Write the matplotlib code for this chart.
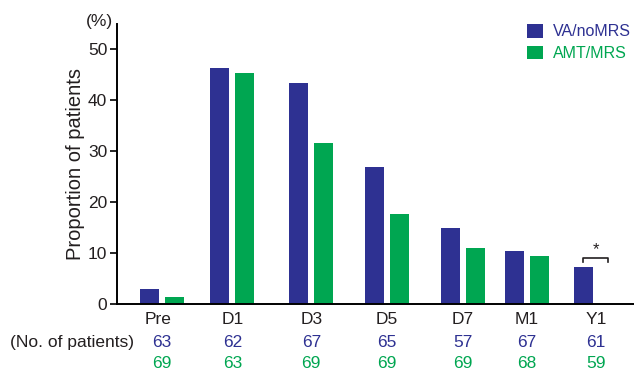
import numpy as np
from matplotlib import pyplot as plt

plt.rcParams['font.family'] = ['Liberation Sans', 'DejaVu Sans']

# data
timepoints = ['Pre', 'D1', 'D3', 'D5', 'D7', 'M1', 'Y1']
va_nomrs = [3.0, 46.4, 43.4, 26.9, 14.9, 10.4, 7.4]
amt_mrs = [1.4, 45.4, 31.6, 17.8, 11.0, 9.5, 0.0]
n_va = [63, 62, 67, 65, 57, 67, 61]
n_amt = [69, 63, 69, 69, 69, 68, 59]

# group positions (the time axis is not evenly spaced in the figure)
xpos = np.array([0.0, 1.0, 2.12, 3.19, 4.27, 5.18, 6.16])

BLUE = '#2E3192'
GREEN = '#00A651'
GREY = '#231F20'

fig = plt.figure(figsize=(6.34, 3.72), dpi=100)
ax = fig.add_axes([0.1845, 0.1815, 0.8155, 0.754])

w = 0.27
off = 0.177
ax.bar(xpos - off, va_nomrs, width=w, color=BLUE, label='VA/noMRS')
ax.bar(xpos + off, amt_mrs, width=w, color=GREEN, label='AMT/MRS')

ax.set_xlim(-0.638, 6.70)
ax.set_ylim(0, 55)
ax.set_yticks([0, 10, 20, 30, 40, 50])
ax.tick_params(axis='y', direction='out', length=5, width=1.2, labelsize=12.5,
               labelcolor=GREY, pad=2)
ax.set_xticks([])
for s in ['top', 'right']:
    ax.spines[s].set_visible(False)
ax.spines['left'].set_linewidth(1.4)
ax.spines['bottom'].set_linewidth(1.4)

ax.set_ylabel('Proportion of patients', fontsize=14.5, color=GREY, labelpad=2)
ax.text(-0.69, 55.5, '(%)', ha='right', va='center', fontsize=12.5, color=GREY)

# category labels and patient numbers under the axis
trans = ax.get_xaxis_transform()
for x, lab, a, b in zip(xpos, timepoints, n_va, n_amt):
    ax.text(x - 0.05 if lab == 'Pre' else x, -0.055, lab, transform=trans,
            ha='center', va='center', fontsize=12.5, color=GREY)
    ax.text(x, -0.137, str(a), transform=trans, ha='center', va='center',
            fontsize=12.5, color=BLUE)
    ax.text(x, -0.209, str(b), transform=trans, ha='center', va='center',
            fontsize=12.5, color=GREEN)
ax.text(-0.40, -0.137, '(No. of patients)', transform=trans, ha='right',
        va='center', fontsize=12.5, color=GREY)

# significance bracket at Y1
x1, x2 = xpos[6] - off, xpos[6] + off
ax.plot([x1, x1, x2, x2], [8.3, 9.05, 9.05, 8.3], color=GREY, lw=1.2)
ax.text((x1 + x2) / 2, 9.3, '*', ha='center', va='bottom', fontsize=12, color=GREY)

leg = ax.legend(loc='upper right', bbox_to_anchor=(1.021, 1.05), frameon=False,
                fontsize=11.5, handlelength=1.0, handleheight=0.9,
                handletextpad=0.6, labelspacing=0.4)
for t, c in zip(leg.get_texts(), [BLUE, GREEN]):
    t.set_color(c)

fig.savefig('out.png', dpi=100)
